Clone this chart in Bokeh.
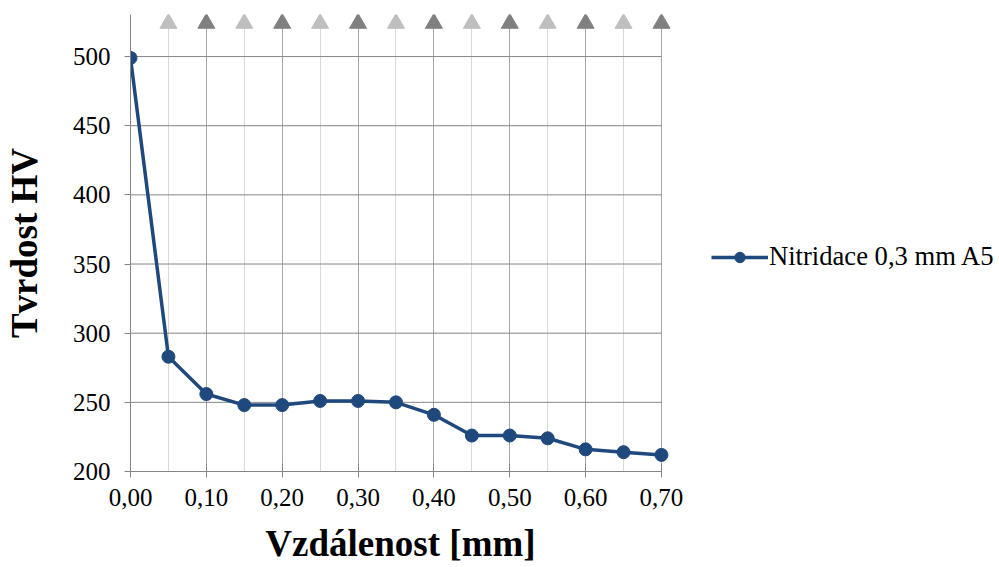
from bokeh.plotting import figure
from bokeh.models import (FixedTicker, CustomJSTickFormatter, Legend, LegendItem,
                          Range1d, ColumnDataSource)
from bokeh.embed import file_html
from bokeh.resources import INLINE

# data
distance_mm = [0.00, 0.05, 0.10, 0.15, 0.20, 0.25, 0.30, 0.35, 0.40, 0.45, 0.50, 0.55, 0.60, 0.65, 0.70]
hardness_hv = [499, 283, 256, 248, 248, 251, 251, 250, 241, 226, 226, 224, 216, 214, 212]
series_name = "Nitridace 0,3 mm A5"

x_major_ticks = [0.0, 0.1, 0.2, 0.3, 0.4, 0.5, 0.6, 0.7]
x_minor_ticks = [0.05, 0.15, 0.25, 0.35, 0.45, 0.55, 0.65]
y_ticks = [200, 250, 300, 350, 400, 450, 500]

marker_x = [0.05, 0.10, 0.15, 0.20, 0.25, 0.30, 0.35, 0.40, 0.45, 0.50, 0.55, 0.60, 0.65, 0.70]
marker_level = 524
marker_colors = ["#bfbfbf" if i % 2 == 0 else "#808080" for i in range(len(marker_x))]

FONT = "Liberation Serif"
BLUE = "#1F497D"
AXIS = "#868686"

x_min, x_max = x_major_ticks[0], x_major_ticks[-1]

p = figure(width=983, height=551, output_backend="svg", toolbar_location=None,
           x_range=Range1d(x_min, 0.7119), y_range=Range1d(200, 530.4),
           min_border_left=123, min_border_top=14, min_border_right=320,
           min_border_bottom=80, frame_width=540, frame_height=457)
p.outline_line_color = None
p.background_fill_color = "white"
p.border_fill_color = "white"

p.xaxis.ticker = FixedTicker(ticks=x_major_ticks, minor_ticks=x_minor_ticks)
p.yaxis.ticker = FixedTicker(ticks=y_ticks)
p.xaxis.formatter = CustomJSTickFormatter(code="return tick.toFixed(2).replace('.', ',');")
p.xaxis.bounds = (x_min, x_max)

for ax in (p.xaxis[0], p.yaxis[0]):
    ax.axis_line_color = AXIS
    ax.major_tick_line_color = AXIS
    ax.minor_tick_line_color = None
    ax.major_label_text_font = FONT
    ax.major_label_text_font_size = "25px"
    ax.major_label_text_color = "#000000"
    ax.axis_label_text_font = FONT
    ax.axis_label_text_font_size = "37px"
    ax.axis_label_text_font_style = "bold"
    ax.axis_label_text_color = "#000000"

p.xaxis.major_tick_in = 8
p.xaxis.major_tick_out = 6
p.xaxis.major_label_standoff = 11
p.xaxis.axis_label = "Vzdálenost [mm]"
p.xaxis.axis_label_standoff = 14

p.yaxis.major_tick_in = 0
p.yaxis.major_tick_out = 6
p.yaxis.major_label_standoff = 14
p.yaxis.axis_label = "Tvrdost HV"
p.yaxis.axis_label_standoff = 25

# horizontal gridlines limited to the x axis extent
p.ygrid.grid_line_color = None
hy = y_ticks[1:]
p.segment(x0=[x_min] * len(hy), y0=hy, x1=[x_max] * len(hy), y1=hy,
          line_color=AXIS, line_width=1)

p.xgrid.grid_line_color = "#a6a6a6"
p.xgrid.minor_grid_line_color = "#d9d9d9"

src = ColumnDataSource(dict(x=distance_mm, y=hardness_hv))
r_line = p.line("x", "y", source=src, line_color=BLUE, line_width=3.5)
r_pts = p.scatter("x", "y", source=src, size=13, fill_color=BLUE, line_color=BLUE)

msrc = ColumnDataSource(dict(x=marker_x, y=[marker_level] * len(marker_x), c=marker_colors))
p.scatter("x", "y", source=msrc, marker="triangle", size=17, fill_color="c", line_color="c")

legend = Legend(items=[LegendItem(label=series_name, renderers=[r_line, r_pts])],
                location=(41, 199), label_text_font=FONT, label_text_font_size="26.6px",
                label_text_color="#000000", glyph_width=57, glyph_height=26,
                label_standoff=1, padding=0, margin=0, border_line_color=None,
                background_fill_alpha=0, spacing=0)
p.add_layout(legend, "right")

html = file_html(p, INLINE)
open("out.html", "w").write(html)
